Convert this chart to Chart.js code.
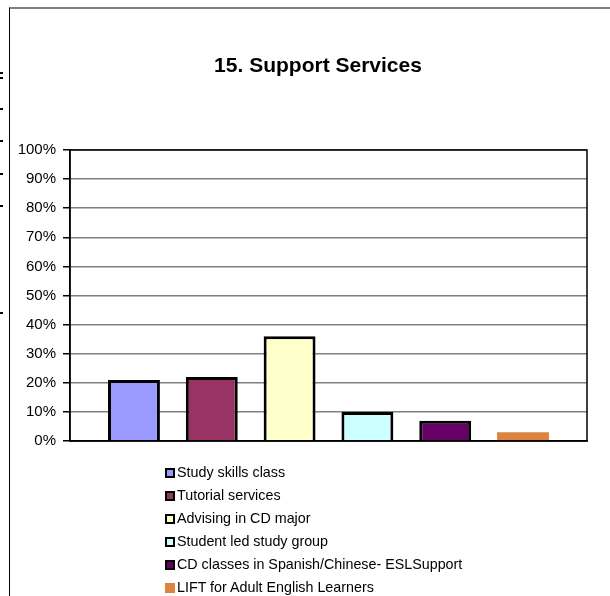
<!DOCTYPE html>
<html>
<head>
<meta charset="utf-8">
<script src="https://cdn.jsdelivr.net/npm/chart.js@4.4.0/dist/chart.umd.min.js"></script>
<style>
  html, body { margin: 0; padding: 0; background: #fff; }
  body { width: 610px; height: 596px; position: relative; overflow: hidden; font-family: "Liberation Sans", Arial, sans-serif; }
  #frame { position: absolute; left: 9px; top: 7px; width: 610px; height: 600px; border-top: 2px solid #808080; border-left: 1px solid #000; }
  #wrap { position: absolute; left: 0; top: 0; width: 610px; height: 596px; }
  .mark { position: absolute; left: 0; width: 3px; height: 2px; background: #000; }
  #title { position: absolute; left: 118px; width: 400px; top: 53px; text-align: center; font-weight: bold; font-size: 21px; color: #000; }
  #legend { position: absolute; left: 165px; top: 461px; font-size: 14.3px; color: #000; }
  .item { position: absolute; left: 0; white-space: nowrap; height: 22px; line-height: 22px; }
  .box { display: inline-block; width: 6px; height: 6px; border: 2px solid #000; margin-right: 2px; vertical-align: -1px; }
</style>
</head>
<body>
<div id="frame"></div>
<div class="mark" style="top:72px"></div>
<div class="mark" style="top:77px"></div>
<div class="mark" style="top:108px"></div>
<div class="mark" style="top:140px"></div>
<div class="mark" style="top:173px"></div>
<div class="mark" style="top:205px"></div>
<div class="mark" style="top:312px"></div>
<div id="wrap"><canvas id="chart" width="610" height="596"></canvas></div>
<div id="title">15. Support Services</div>
<div id="legend"></div>
<script>
// Datos del gráfico
const series = ['Study skills class', 'Tutorial services', 'Advising in CD major',
  'Student led study group', 'CD classes in Spanish/Chinese- ESLSupport', 'LIFT for Adult English Learners'];
const values = [21, 22, 36, 10, 7, 3];
const colors = ['#9999FF', '#993366', '#FFFFCC', '#CCFFFF', '#660066', '#DD8540'];
const outlined = [true, true, true, true, true, false];
const yTicks = ['0%', '10%', '20%', '30%', '40%', '50%', '60%', '70%', '80%', '90%', '100%'];

const framePlugin = {
  id: 'frame',
  afterDraw(chart) {
    const { ctx, chartArea: a } = chart;
    ctx.save();
    ctx.strokeStyle = '#000';
    ctx.lineWidth = 1.5;
    ctx.strokeRect(a.left, a.top, a.right - a.left, a.bottom - a.top);
    ctx.restore();
  }
};

new Chart(document.getElementById('chart'), {
  type: 'bar',
  data: {
    labels: [''],
    datasets: series.map((name, i) => ({
      label: name,
      data: [values[i]],
      backgroundColor: colors[i],
      borderColor: '#000',
      borderWidth: outlined[i] ? 3 : 0,
      categoryPercentage: 0.903,
      barPercentage: 0.667
    }))
  },
  options: {
    responsive: false,
    animation: false,
    layout: { padding: { left: 0, right: 23, top: 150, bottom: 155 } },
    plugins: {
      legend: { display: false },
      tooltip: { enabled: false }
    },
    scales: {
      x: {
        grid: { display: false },
        border: { display: true, color: '#000', width: 1.5 },
        ticks: { display: false },
        afterFit(scale) { scale.height = 0; }
      },
      y: {
        min: 0,
        max: 100,
        ticks: {
          stepSize: 10,
          padding: 7,
          color: '#000',
          font: { family: '"Liberation Sans", Arial', size: 15 },
          callback: (v) => yTicks[Math.round(v / 10)]
        },
        grid: { color: '#808080', lineWidth: 1.5, tickLength: 7, tickColor: '#000' },
        border: { color: '#000', width: 1.5 },
        afterFit(scale) { scale.width = 70; }
      }
    }
  },
  plugins: [framePlugin]
});

const legend = document.getElementById('legend');
series.forEach((name, i) => {
  const row = document.createElement('div');
  row.className = 'item';
  row.style.top = (i * 23) + 'px';
  const box = document.createElement('span');
  box.className = 'box';
  box.style.background = colors[i];
  if (!outlined[i]) { box.style.borderColor = colors[i]; }
  row.appendChild(box);
  row.appendChild(document.createTextNode(name));
  legend.appendChild(row);
});
</script>
</body>
</html>
